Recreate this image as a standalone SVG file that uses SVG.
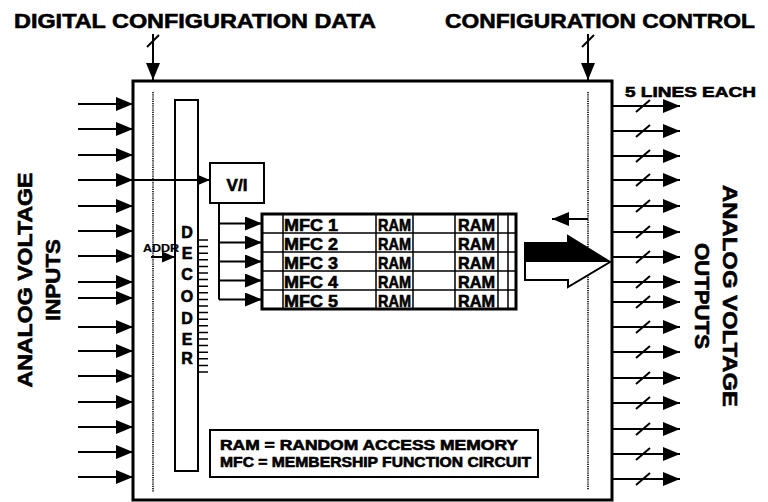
<svg xmlns="http://www.w3.org/2000/svg" width="768" height="502" viewBox="0 0 768 502">
<style>
text{font-family:"Liberation Sans",Arial,Helvetica,sans-serif;font-weight:bold;fill:#000;stroke:#000;stroke-width:0.6}
.sm{stroke-width:0.2}
.ln{stroke:#000;stroke-width:2;fill:none}
.thin{stroke:#000;stroke-width:1.5;fill:none}
.thick{stroke:#000;stroke-width:3;fill:none}
.dot{stroke:#000;stroke-width:1.6;stroke-dasharray:1.2 1;fill:none}
.box{fill:#fff;stroke:#000;stroke-width:2}
</style>
<defs>
<marker id="ah" markerUnits="userSpaceOnUse" markerWidth="17" markerHeight="14" refX="17" refY="7" orient="auto"><path d="M0,0 L17,7 L0,14 z" fill="#000"/></marker>
<marker id="ahs" markerUnits="userSpaceOnUse" markerWidth="13" markerHeight="11" refX="13" refY="5.5" orient="auto"><path d="M0,0 L13,5.5 L0,11 z" fill="#000"/></marker>
</defs>
<rect width="768" height="502" fill="#fff"/>

<g id="titles">
<text x="14" y="28" font-size="21" textLength="362" lengthAdjust="spacingAndGlyphs">DIGITAL CONFIGURATION DATA</text>
<text x="445" y="28" font-size="21" textLength="310" lengthAdjust="spacingAndGlyphs">CONFIGURATION CONTROL</text>
<text x="625" y="97" font-size="15" textLength="131" lengthAdjust="spacingAndGlyphs">5 LINES EACH</text>
<text transform="translate(32,280) rotate(-90)" text-anchor="middle" font-size="21" textLength="215" lengthAdjust="spacingAndGlyphs">ANALOG VOLTAGE</text>
<text transform="translate(60,280) rotate(-90)" text-anchor="middle" font-size="21" textLength="82" lengthAdjust="spacingAndGlyphs">INPUTS</text>
<text transform="translate(723,296) rotate(90)" text-anchor="middle" font-size="21" textLength="222" lengthAdjust="spacingAndGlyphs">ANALOG VOLTAGE</text>
<text transform="translate(695,296) rotate(90)" text-anchor="middle" font-size="21" textLength="106" lengthAdjust="spacingAndGlyphs">OUTPUTS</text>
</g>

<g id="chip">
<rect x="133" y="81" width="479" height="419" class="thick"/>
<line x1="153" y1="92" x2="153" y2="492" class="dot"/>
<line x1="588" y1="92" x2="588" y2="490" class="dot"/>
</g>

<g id="connectors">
<line x1="153" y1="34" x2="153" y2="80" class="ln" marker-end="url(#ah)"/>
<line x1="147" y1="47" x2="159" y2="35" class="ln"/>
<line x1="588" y1="34" x2="588" y2="80" class="ln" marker-end="url(#ah)"/>
<line x1="582" y1="47" x2="594" y2="35" class="ln"/>
<g class="ln">
<line x1="78" y1="104" x2="133" y2="104" marker-end="url(#ah)"/>
<line x1="78" y1="129" x2="133" y2="129" marker-end="url(#ah)"/>
<line x1="78" y1="155" x2="133" y2="155" marker-end="url(#ah)"/>
<line x1="78" y1="180" x2="133" y2="180" marker-end="url(#ah)"/>
<line x1="78" y1="206" x2="133" y2="206" marker-end="url(#ah)"/>
<line x1="78" y1="231" x2="133" y2="231" marker-end="url(#ah)"/>
<line x1="78" y1="256" x2="133" y2="256" marker-end="url(#ah)"/>
<line x1="78" y1="282" x2="133" y2="282" marker-end="url(#ah)"/>
<line x1="78" y1="298" x2="133" y2="298" marker-end="url(#ah)"/>
<line x1="78" y1="327" x2="133" y2="327" marker-end="url(#ah)"/>
<line x1="78" y1="351" x2="133" y2="351" marker-end="url(#ah)"/>
<line x1="78" y1="376" x2="133" y2="376" marker-end="url(#ah)"/>
<line x1="78" y1="402" x2="133" y2="402" marker-end="url(#ah)"/>
<line x1="78" y1="427" x2="133" y2="427" marker-end="url(#ah)"/>
<line x1="78" y1="452" x2="133" y2="452" marker-end="url(#ah)"/>
<line x1="78" y1="477" x2="133" y2="477" marker-end="url(#ah)"/>
</g>
<g class="ln">
<line x1="612" y1="106" x2="680" y2="106" marker-end="url(#ah)"/>
<line x1="612" y1="131" x2="680" y2="131" marker-end="url(#ah)"/>
<line x1="612" y1="156" x2="680" y2="156" marker-end="url(#ah)"/>
<line x1="612" y1="180" x2="680" y2="180" marker-end="url(#ah)"/>
<line x1="612" y1="206" x2="680" y2="206" marker-end="url(#ah)"/>
<line x1="612" y1="232" x2="680" y2="232" marker-end="url(#ah)"/>
<line x1="612" y1="257" x2="680" y2="257" marker-end="url(#ah)"/>
<line x1="612" y1="282" x2="680" y2="282" marker-end="url(#ah)"/>
<line x1="612" y1="302" x2="680" y2="302" marker-end="url(#ah)"/>
<line x1="612" y1="327" x2="680" y2="327" marker-end="url(#ah)"/>
<line x1="612" y1="352" x2="680" y2="352" marker-end="url(#ah)"/>
<line x1="612" y1="378" x2="680" y2="378" marker-end="url(#ah)"/>
<line x1="612" y1="403" x2="680" y2="403" marker-end="url(#ah)"/>
<line x1="612" y1="429" x2="680" y2="429" marker-end="url(#ah)"/>
<line x1="612" y1="454" x2="680" y2="454" marker-end="url(#ah)"/>
<line x1="612" y1="479" x2="680" y2="479" marker-end="url(#ah)"/>
</g>
<path class="ln" d="M636,112 L650,100 M636,137 L650,125 M636,162 L650,150 M636,186 L650,174 M636,212 L650,200 M636,238 L650,226 M636,263 L650,251 M636,288 L650,276 M636,308 L650,296 M636,333 L650,321 M636,358 L650,346 M636,384 L650,372 M636,409 L650,397 M636,435 L650,423 M636,460 L650,448 M636,485 L650,473"/>
<line x1="133" y1="180" x2="210" y2="180" class="ln" marker-end="url(#ahs)"/>
<line x1="151" y1="257" x2="175" y2="257" class="ln" marker-end="url(#ahs)"/>
<path d="M219,203 V299.5" class="ln"/>
<g class="ln">
<line x1="219" y1="223.5" x2="262" y2="223.5" marker-end="url(#ah)"/>
<line x1="219" y1="242.5" x2="262" y2="242.5" marker-end="url(#ah)"/>
<line x1="219" y1="261.5" x2="262" y2="261.5" marker-end="url(#ah)"/>
<line x1="219" y1="280.5" x2="262" y2="280.5" marker-end="url(#ah)"/>
<line x1="219" y1="299.5" x2="262" y2="299.5" marker-end="url(#ah)"/>
</g>
<line x1="588" y1="219" x2="552" y2="219" class="ln" marker-end="url(#ah)"/>
<polygon points="525,243 568,243 568,236 610,262 568,287 568,280 525,280" fill="#fff" stroke="#000" stroke-width="2"/>
<polygon points="525,243 568,243 568,236 610,262 525,262" fill="#000"/>
</g>

<g id="decoder">
<rect x="175" y="100" width="23" height="371" class="ln"/>
<g font-size="16" text-anchor="middle">
<text x="187" y="238">D</text>
<text x="187" y="259">E</text>
<text x="187" y="280">C</text>
<text x="187" y="302">O</text>
<text x="187" y="324">D</text>
<text x="187" y="345">E</text>
<text x="187" y="364">R</text>
</g>
<path class="thin" d="M198,240H208M198,246.6H208M198,253.2H208M198,259.8H208M198,266.4H208M198,273H208M198,279.6H208M198,286.2H208M198,292.8H208M198,299.4H208M198,306H208M198,312.6H208M198,319.2H208M198,325.8H208M198,332.4H208M198,339H208M198,345.6H208M198,352.2H208M198,358.8H208M198,365.4H208M198,372H208"/>
</g>

<g id="addr">
<text class="sm" x="143" y="252" font-size="10" textLength="36" lengthAdjust="spacingAndGlyphs">ADDR</text>
</g>

<g id="vi">
<rect x="210" y="163" width="54" height="40" class="box"/>
<text x="237" y="191" font-size="17" text-anchor="middle">V/I</text>
</g>

<g id="mfc-array">
<rect x="262" y="214" width="254" height="95" fill="#fff" stroke="#000" stroke-width="3"/>
<path class="thin" d="M262,233H516M262,252H516M262,271H516M262,290H516M283,214V309M376,214V309M413,214V309M455,214V309M498,214V309M508,214V309"/>
<g font-size="17">
<text x="284" y="231" textLength="54" lengthAdjust="spacingAndGlyphs">MFC 1</text>
<text x="284" y="250" textLength="54" lengthAdjust="spacingAndGlyphs">MFC 2</text>
<text x="284" y="269" textLength="54" lengthAdjust="spacingAndGlyphs">MFC 3</text>
<text x="284" y="288" textLength="54" lengthAdjust="spacingAndGlyphs">MFC 4</text>
<text x="284" y="307" textLength="54" lengthAdjust="spacingAndGlyphs">MFC 5</text>
<text x="378" y="231" textLength="33" lengthAdjust="spacingAndGlyphs">RAM</text>
<text x="378" y="250" textLength="33" lengthAdjust="spacingAndGlyphs">RAM</text>
<text x="378" y="269" textLength="33" lengthAdjust="spacingAndGlyphs">RAM</text>
<text x="378" y="288" textLength="33" lengthAdjust="spacingAndGlyphs">RAM</text>
<text x="378" y="307" textLength="33" lengthAdjust="spacingAndGlyphs">RAM</text>
<text x="458" y="231" textLength="37" lengthAdjust="spacingAndGlyphs">RAM</text>
<text x="458" y="250" textLength="37" lengthAdjust="spacingAndGlyphs">RAM</text>
<text x="458" y="269" textLength="37" lengthAdjust="spacingAndGlyphs">RAM</text>
<text x="458" y="288" textLength="37" lengthAdjust="spacingAndGlyphs">RAM</text>
<text x="458" y="307" textLength="37" lengthAdjust="spacingAndGlyphs">RAM</text>
</g>
</g>

<g id="legend">
<rect x="210" y="430" width="328" height="47" class="box"/>
<text x="220" y="450" font-size="14" textLength="298" lengthAdjust="spacingAndGlyphs">RAM = RANDOM ACCESS MEMORY</text>
<text x="220" y="467" font-size="14" textLength="311" lengthAdjust="spacingAndGlyphs">MFC = MEMBERSHIP FUNCTION CIRCUIT</text>
</g>
</svg>
